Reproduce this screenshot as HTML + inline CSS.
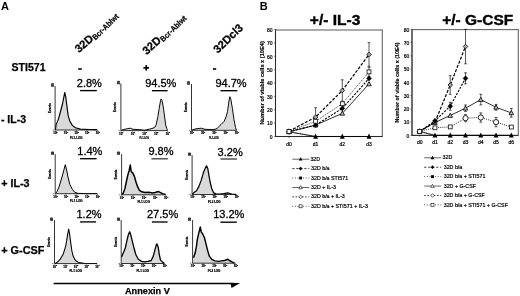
<!DOCTYPE html>
<html><head><meta charset="utf-8"><style>
html,body{margin:0;padding:0;background:#fff;width:520px;height:296px;overflow:hidden}
svg{display:block;will-change:transform}
text{font-family:"Liberation Sans", sans-serif;}
</style></head><body>
<svg width="520" height="296" viewBox="0 0 520 296">
<rect width="520" height="296" fill="#fff"/>

<text x="1.0" y="9.7" font-size="11" font-weight="bold" text-anchor="start" fill="#000" >A</text>
<text transform="translate(78.9,53.3) rotate(-42)" font-weight="bold" fill="#000" stroke="#000" stroke-width="0.25" font-size="11.2">32D</text>
<text transform="translate(94.16,39.56) rotate(-44.5)" x="0.2" y="1.6" font-weight="bold" fill="#000" stroke="#000" stroke-width="0.2" font-size="8" textLength="33.5" lengthAdjust="spacingAndGlyphs">Bcr-Ablwt</text>
<text transform="translate(146.8,55.3) rotate(-43)" font-weight="bold" fill="#000" stroke="#000" stroke-width="0.25" font-size="11.2">32D</text>
<text transform="translate(161.82,41.29) rotate(-44.5)" x="0.4" y="1.8" font-weight="bold" fill="#000" stroke="#000" stroke-width="0.2" font-size="8" textLength="33.5" lengthAdjust="spacingAndGlyphs">Bcr-Ablwt</text>
<text transform="translate(217.7,53.7) rotate(-44)" font-weight="bold" fill="#000" stroke="#000" stroke-width="0.25" font-size="11.2">32Dcl3</text>
<text x="11.6" y="70.9" font-size="10.4" font-weight="bold" text-anchor="start" fill="#000" textLength="34" lengthAdjust="spacingAndGlyphs" stroke="#000" stroke-width="0.25">STI571</text>
<rect x="78.2" y="68.2" width="3.6" height="1.6" fill="#000"/>
<rect x="143.4" y="67.0" width="5.6" height="1.7" fill="#000"/>
<rect x="145.4" y="65.1" width="1.7" height="5.5" fill="#000"/>
<rect x="212.9" y="68.2" width="3.3" height="1.6" fill="#000"/>
<text x="0.9" y="122.5" font-size="10.4" font-weight="bold" text-anchor="start" fill="#000" textLength="25.2" lengthAdjust="spacingAndGlyphs" stroke="#000" stroke-width="0.25">- IL-3</text>
<text x="1.2" y="186.9" font-size="10.4" font-weight="bold" text-anchor="start" fill="#000" textLength="28.4" lengthAdjust="spacingAndGlyphs" stroke="#000" stroke-width="0.25">+ IL-3</text>
<text x="1.2" y="253.6" font-size="10.3" font-weight="bold" text-anchor="start" fill="#000" textLength="43.2" lengthAdjust="spacingAndGlyphs" stroke="#000" stroke-width="0.25">+ G-CSF</text>
<text x="76.8" y="86.8" font-size="11" font-weight="normal" text-anchor="start" fill="#000" stroke="#000" stroke-width="0.3">2.8%</text>
<line x1="80.1" y1="90.6" x2="96.8" y2="90.6" stroke="#000" stroke-width="1.35"/>
<text x="145.2" y="86.8" font-size="11" font-weight="normal" text-anchor="start" fill="#000" stroke="#000" stroke-width="0.3">94.5%</text>
<line x1="151.9" y1="90.7" x2="167.6" y2="90.7" stroke="#000" stroke-width="1.35"/>
<text x="215.4" y="86.9" font-size="11" font-weight="normal" text-anchor="start" fill="#000" stroke="#000" stroke-width="0.3">94.7%</text>
<line x1="220.5" y1="90.7" x2="237.4" y2="90.7" stroke="#000" stroke-width="1.35"/>
<text x="77.3" y="155.0" font-size="11" font-weight="normal" text-anchor="start" fill="#000" stroke="#000" stroke-width="0.3">1.4%</text>
<line x1="80.1" y1="158.7" x2="96.6" y2="158.7" stroke="#000" stroke-width="1.35"/>
<text x="148.4" y="155.4" font-size="11" font-weight="normal" text-anchor="start" fill="#000" stroke="#000" stroke-width="0.3">9.8%</text>
<line x1="151.4" y1="158.8" x2="167.8" y2="158.8" stroke="#333" stroke-width="1.25"/>
<text x="217.6" y="155.6" font-size="11" font-weight="normal" text-anchor="start" fill="#000" stroke="#000" stroke-width="0.3">3.2%</text>
<line x1="220.5" y1="159.0" x2="237.0" y2="159.0" stroke="#333" stroke-width="1.25"/>
<text x="76.5" y="218.0" font-size="11" font-weight="normal" text-anchor="start" fill="#000" stroke="#000" stroke-width="0.3">1.2%</text>
<line x1="80.1" y1="221.9" x2="96.0" y2="221.9" stroke="#000" stroke-width="1.35"/>
<text x="147.0" y="218.0" font-size="11" font-weight="normal" text-anchor="start" fill="#000" stroke="#000" stroke-width="0.3">27.5%</text>
<line x1="151.9" y1="222.0" x2="167.6" y2="222.0" stroke="#000" stroke-width="1.35"/>
<text x="213.2" y="218.0" font-size="11" font-weight="normal" text-anchor="start" fill="#000" stroke="#000" stroke-width="0.3">13.2%</text>
<line x1="220.4" y1="222.2" x2="236.9" y2="222.2" stroke="#000" stroke-width="1.35"/>
<path d="M55.5,129.8 L56.1,124.6 L58.5,118.9 L60.9,110.0 L62.6,103.5 L63.7,97.8 L64.7,92.5 L65.8,97.0 L66.6,103.5 L67.4,110.0 L68.2,115.7 L69.9,121.3 L72.3,125.4 L75.5,127.8 L80.4,129.1 L90.0,129.5 L97.0,129.6 L97.0,130.0 L55.5,130.0 Z" fill="#d9d9d9" stroke="none"/>
<path d="M55.5,129.8 L56.1,124.6 L58.5,118.9 L60.9,110.0 L62.6,103.5 L63.7,97.8 L64.7,92.5 L65.8,97.0 L66.6,103.5 L67.4,110.0 L68.2,115.7 L69.9,121.3 L72.3,125.4 L75.5,127.8 L80.4,129.1 L90.0,129.5 L97.0,129.6" fill="none" stroke="#000" stroke-width="1.15" stroke-linejoin="round"/>
<path d="M55.1,86 L55.1,130.0 L97.5,130.0" fill="none" stroke="#111" stroke-width="0.85"/>
<line x1="52.5" y1="130.0" x2="53.9" y2="130.0" stroke="#222" stroke-width="0.6"/>
<line x1="55.1" y1="130.0" x2="55.1" y2="131.2" stroke="#222" stroke-width="0.5"/>
<text x="55.4" y="133.9" font-size="3.0" font-weight="bold" text-anchor="middle" fill="#000" stroke="#000" stroke-width="0.2">10<tspan font-size="1.8" dy="-1.1">0</tspan></text>
<line x1="65.7" y1="130.0" x2="65.7" y2="131.2" stroke="#222" stroke-width="0.5"/>
<text x="66.0" y="133.9" font-size="3.0" font-weight="bold" text-anchor="middle" fill="#000" stroke="#000" stroke-width="0.2">10<tspan font-size="1.8" dy="-1.1">1</tspan></text>
<line x1="76.3" y1="130.0" x2="76.3" y2="131.2" stroke="#222" stroke-width="0.5"/>
<text x="76.6" y="133.9" font-size="3.0" font-weight="bold" text-anchor="middle" fill="#000" stroke="#000" stroke-width="0.2">10<tspan font-size="1.8" dy="-1.1">2</tspan></text>
<line x1="86.9" y1="130.0" x2="86.9" y2="131.2" stroke="#222" stroke-width="0.5"/>
<text x="87.2" y="133.9" font-size="3.0" font-weight="bold" text-anchor="middle" fill="#000" stroke="#000" stroke-width="0.2">10<tspan font-size="1.8" dy="-1.1">3</tspan></text>
<line x1="97.5" y1="130.0" x2="97.5" y2="131.2" stroke="#222" stroke-width="0.5"/>
<text x="97.8" y="133.9" font-size="3.0" font-weight="bold" text-anchor="middle" fill="#000" stroke="#000" stroke-width="0.2">10<tspan font-size="1.8" dy="-1.1">4</tspan></text>
<text x="76.3" y="138.6" font-size="3.0" font-weight="bold" text-anchor="middle" fill="#000" textLength="12.5" lengthAdjust="spacingAndGlyphs" stroke="#000" stroke-width="0.2">FL1-LOG</text>
<text transform="translate(50.5,108.0) rotate(-90)" font-size="3" font-weight="bold" text-anchor="middle" fill="#000" stroke="#000" stroke-width="0.2">Events</text>
<text transform="translate(53.800000000000004,85.1) rotate(-90)" font-size="3" font-weight="bold" text-anchor="middle" fill="#000" stroke="#000" stroke-width="0.2">80</text>
<path d="M121.2,130.3 L124.0,129.4 L127.0,128.8 L130.2,128.2 L133.0,129.3 L137.0,129.5 L141.0,129.8 L144.4,130.2 L150.0,129.0 L153.0,128.2 L155.0,127.0 L156.2,124.6 L157.9,116.5 L159.2,108.4 L160.3,101.9 L161.1,98.9 L162.0,100.5 L163.3,107.0 L164.5,116.0 L165.7,125.0 L166.8,128.6 L167.5,130.4 L167.5,130.6 L121.2,130.6 Z" fill="#d9d9d9" stroke="none"/>
<path d="M121.2,130.3 L124.0,129.4 L127.0,128.8 L130.2,128.2 L133.0,129.3 L137.0,129.5 L141.0,129.8 L144.4,130.2 L150.0,129.0 L153.0,128.2 L155.0,127.0 L156.2,124.6 L157.9,116.5 L159.2,108.4 L160.3,101.9 L161.1,98.9 L162.0,100.5 L163.3,107.0 L164.5,116.0 L165.7,125.0 L166.8,128.6 L167.5,130.4" fill="none" stroke="#000" stroke-width="0.95" stroke-linejoin="round"/>
<path d="M120.9,83.5 L120.9,130.6 L167.5,130.6" fill="none" stroke="#111" stroke-width="0.85"/>
<line x1="118.30000000000001" y1="130.6" x2="119.7" y2="130.6" stroke="#222" stroke-width="0.6"/>
<line x1="120.9" y1="130.6" x2="120.9" y2="131.79999999999998" stroke="#222" stroke-width="0.5"/>
<text x="121.2" y="134.5" font-size="3.0" font-weight="bold" text-anchor="middle" fill="#000" stroke="#000" stroke-width="0.2">10<tspan font-size="1.8" dy="-1.1">0</tspan></text>
<line x1="132.6" y1="130.6" x2="132.6" y2="131.79999999999998" stroke="#222" stroke-width="0.5"/>
<text x="132.9" y="134.5" font-size="3.0" font-weight="bold" text-anchor="middle" fill="#000" stroke="#000" stroke-width="0.2">10<tspan font-size="1.8" dy="-1.1">1</tspan></text>
<line x1="144.2" y1="130.6" x2="144.2" y2="131.79999999999998" stroke="#222" stroke-width="0.5"/>
<text x="144.5" y="134.5" font-size="3.0" font-weight="bold" text-anchor="middle" fill="#000" stroke="#000" stroke-width="0.2">10<tspan font-size="1.8" dy="-1.1">2</tspan></text>
<line x1="155.8" y1="130.6" x2="155.8" y2="131.79999999999998" stroke="#222" stroke-width="0.5"/>
<text x="156.2" y="134.5" font-size="3.0" font-weight="bold" text-anchor="middle" fill="#000" stroke="#000" stroke-width="0.2">10<tspan font-size="1.8" dy="-1.1">3</tspan></text>
<line x1="167.5" y1="130.6" x2="167.5" y2="131.79999999999998" stroke="#222" stroke-width="0.5"/>
<text x="167.8" y="134.5" font-size="3.0" font-weight="bold" text-anchor="middle" fill="#000" stroke="#000" stroke-width="0.2">10<tspan font-size="1.8" dy="-1.1">4</tspan></text>
<text x="144.2" y="139.2" font-size="3.0" font-weight="bold" text-anchor="middle" fill="#000" textLength="9.6" lengthAdjust="spacingAndGlyphs" stroke="#000" stroke-width="0.2">FL1-LOG</text>
<text transform="translate(116.30000000000001,107.0) rotate(-90)" font-size="3" font-weight="bold" text-anchor="middle" fill="#000" stroke="#000" stroke-width="0.2">Events</text>
<text transform="translate(119.60000000000001,82.6) rotate(-90)" font-size="3" font-weight="bold" text-anchor="middle" fill="#000" stroke="#000" stroke-width="0.2">80</text>
<path d="M191.8,130.1 L196.0,128.8 L201.2,128.2 L205.0,129.3 L213.0,129.6 L216.0,129.0 L217.7,127.8 L221.0,124.5 L224.2,121.3 L226.0,117.0 L227.5,111.6 L229.1,100.2 L229.9,96.7 L230.7,98.6 L232.4,108.4 L234.0,119.7 L235.6,127.8 L236.3,130.1 L236.3,130.3 L191.8,130.3 Z" fill="#d9d9d9" stroke="none"/>
<path d="M191.8,130.1 L196.0,128.8 L201.2,128.2 L205.0,129.3 L213.0,129.6 L216.0,129.0 L217.7,127.8 L221.0,124.5 L224.2,121.3 L226.0,117.0 L227.5,111.6 L229.1,100.2 L229.9,96.7 L230.7,98.6 L232.4,108.4 L234.0,119.7 L235.6,127.8 L236.3,130.1" fill="none" stroke="#000" stroke-width="0.95" stroke-linejoin="round"/>
<path d="M191.5,84 L191.5,130.3 L236.5,130.3" fill="none" stroke="#111" stroke-width="0.85"/>
<line x1="188.9" y1="130.3" x2="190.3" y2="130.3" stroke="#222" stroke-width="0.6"/>
<line x1="191.5" y1="130.3" x2="191.5" y2="131.5" stroke="#222" stroke-width="0.5"/>
<text x="191.8" y="134.20000000000002" font-size="3.0" font-weight="bold" text-anchor="middle" fill="#000" stroke="#000" stroke-width="0.2">10<tspan font-size="1.8" dy="-1.1">0</tspan></text>
<line x1="202.8" y1="130.3" x2="202.8" y2="131.5" stroke="#222" stroke-width="0.5"/>
<text x="203.1" y="134.20000000000002" font-size="3.0" font-weight="bold" text-anchor="middle" fill="#000" stroke="#000" stroke-width="0.2">10<tspan font-size="1.8" dy="-1.1">1</tspan></text>
<line x1="214.0" y1="130.3" x2="214.0" y2="131.5" stroke="#222" stroke-width="0.5"/>
<text x="214.3" y="134.20000000000002" font-size="3.0" font-weight="bold" text-anchor="middle" fill="#000" stroke="#000" stroke-width="0.2">10<tspan font-size="1.8" dy="-1.1">2</tspan></text>
<line x1="225.2" y1="130.3" x2="225.2" y2="131.5" stroke="#222" stroke-width="0.5"/>
<text x="225.6" y="134.20000000000002" font-size="3.0" font-weight="bold" text-anchor="middle" fill="#000" stroke="#000" stroke-width="0.2">10<tspan font-size="1.8" dy="-1.1">3</tspan></text>
<line x1="236.5" y1="130.3" x2="236.5" y2="131.5" stroke="#222" stroke-width="0.5"/>
<text x="236.8" y="134.20000000000002" font-size="3.0" font-weight="bold" text-anchor="middle" fill="#000" stroke="#000" stroke-width="0.2">10<tspan font-size="1.8" dy="-1.1">4</tspan></text>
<text x="214.0" y="138.9" font-size="3.0" font-weight="bold" text-anchor="middle" fill="#000" textLength="9.6" lengthAdjust="spacingAndGlyphs" stroke="#000" stroke-width="0.2">FL1-LOG</text>
<text transform="translate(186.9,107.2) rotate(-90)" font-size="3" font-weight="bold" text-anchor="middle" fill="#000" stroke="#000" stroke-width="0.2">Events</text>
<text transform="translate(190.2,83.1) rotate(-90)" font-size="3" font-weight="bold" text-anchor="middle" fill="#000" stroke="#000" stroke-width="0.2">80</text>
<path d="M55.5,193.5 L56.9,191.8 L59.3,186.1 L61.7,178.0 L63.7,170.7 L65.3,164.7 L66.6,169.9 L68.2,178.0 L69.9,184.5 L72.3,189.3 L74.7,192.3 L78.0,193.4 L90.0,193.6 L97.0,193.6 L97.0,193.7 L55.5,193.7 Z" fill="#d9d9d9" stroke="none"/>
<path d="M55.5,193.5 L56.9,191.8 L59.3,186.1 L61.7,178.0 L63.7,170.7 L65.3,164.7 L66.6,169.9 L68.2,178.0 L69.9,184.5 L72.3,189.3 L74.7,192.3 L78.0,193.4 L90.0,193.6 L97.0,193.6" fill="none" stroke="#000" stroke-width="1.0" stroke-linejoin="round"/>
<path d="M55.2,154.1 L55.2,193.7 L97.5,193.7" fill="none" stroke="#111" stroke-width="0.85"/>
<line x1="52.6" y1="193.7" x2="54.0" y2="193.7" stroke="#222" stroke-width="0.6"/>
<line x1="55.2" y1="193.7" x2="55.2" y2="194.89999999999998" stroke="#222" stroke-width="0.5"/>
<text x="55.5" y="197.6" font-size="3.0" font-weight="bold" text-anchor="middle" fill="#000" stroke="#000" stroke-width="0.2">10<tspan font-size="1.8" dy="-1.1">0</tspan></text>
<line x1="65.8" y1="193.7" x2="65.8" y2="194.89999999999998" stroke="#222" stroke-width="0.5"/>
<text x="66.1" y="197.6" font-size="3.0" font-weight="bold" text-anchor="middle" fill="#000" stroke="#000" stroke-width="0.2">10<tspan font-size="1.8" dy="-1.1">1</tspan></text>
<line x1="76.3" y1="193.7" x2="76.3" y2="194.89999999999998" stroke="#222" stroke-width="0.5"/>
<text x="76.6" y="197.6" font-size="3.0" font-weight="bold" text-anchor="middle" fill="#000" stroke="#000" stroke-width="0.2">10<tspan font-size="1.8" dy="-1.1">2</tspan></text>
<line x1="86.9" y1="193.7" x2="86.9" y2="194.89999999999998" stroke="#222" stroke-width="0.5"/>
<text x="87.2" y="197.6" font-size="3.0" font-weight="bold" text-anchor="middle" fill="#000" stroke="#000" stroke-width="0.2">10<tspan font-size="1.8" dy="-1.1">3</tspan></text>
<line x1="97.5" y1="193.7" x2="97.5" y2="194.89999999999998" stroke="#222" stroke-width="0.5"/>
<text x="97.8" y="197.6" font-size="3.0" font-weight="bold" text-anchor="middle" fill="#000" stroke="#000" stroke-width="0.2">10<tspan font-size="1.8" dy="-1.1">4</tspan></text>
<text x="76.3" y="202.29999999999998" font-size="3.0" font-weight="bold" text-anchor="middle" fill="#000" textLength="12.5" lengthAdjust="spacingAndGlyphs" stroke="#000" stroke-width="0.2">FL1 LOG</text>
<text transform="translate(50.6,173.9) rotate(-90)" font-size="3" font-weight="bold" text-anchor="middle" fill="#000" stroke="#000" stroke-width="0.2">Events</text>
<text transform="translate(53.900000000000006,153.2) rotate(-90)" font-size="3" font-weight="bold" text-anchor="middle" fill="#000" stroke="#000" stroke-width="0.2">80</text>
<path d="M122.0,194.5 L123.1,193.4 L124.7,189.3 L126.3,182.0 L127.9,174.7 L129.1,170.7 L130.0,166.6 L130.3,165.0 L131.2,171.5 L132.8,173.1 L134.4,176.4 L136.0,182.0 L137.7,186.9 L139.3,190.1 L141.7,191.8 L145.0,192.6 L148.5,192.3 L152.6,193.0 L155.0,192.5 L158.6,191.6 L162.5,193.6 L165.5,194.5 L165.5,194.8 L122.0,194.8 Z" fill="#d9d9d9" stroke="none"/>
<path d="M122.0,194.5 L123.1,193.4 L124.7,189.3 L126.3,182.0 L127.9,174.7 L129.1,170.7 L130.0,166.6 L130.3,165.0 L131.2,171.5 L132.8,173.1 L134.4,176.4 L136.0,182.0 L137.7,186.9 L139.3,190.1 L141.7,191.8 L145.0,192.6 L148.5,192.3 L152.6,193.0 L155.0,192.5 L158.6,191.6 L162.5,193.6 L165.5,194.5" fill="none" stroke="#000" stroke-width="1.5" stroke-linejoin="round"/>
<path d="M121.6,154.1 L121.6,194.8 L165.8,194.8" fill="none" stroke="#111" stroke-width="0.85"/>
<line x1="119.0" y1="194.8" x2="120.39999999999999" y2="194.8" stroke="#222" stroke-width="0.6"/>
<line x1="121.6" y1="194.8" x2="121.6" y2="196.0" stroke="#222" stroke-width="0.5"/>
<text x="121.9" y="198.70000000000002" font-size="3.0" font-weight="bold" text-anchor="middle" fill="#000" stroke="#000" stroke-width="0.2">10<tspan font-size="1.8" dy="-1.1">0</tspan></text>
<line x1="132.7" y1="194.8" x2="132.7" y2="196.0" stroke="#222" stroke-width="0.5"/>
<text x="133.0" y="198.70000000000002" font-size="3.0" font-weight="bold" text-anchor="middle" fill="#000" stroke="#000" stroke-width="0.2">10<tspan font-size="1.8" dy="-1.1">1</tspan></text>
<line x1="143.7" y1="194.8" x2="143.7" y2="196.0" stroke="#222" stroke-width="0.5"/>
<text x="144.0" y="198.70000000000002" font-size="3.0" font-weight="bold" text-anchor="middle" fill="#000" stroke="#000" stroke-width="0.2">10<tspan font-size="1.8" dy="-1.1">2</tspan></text>
<line x1="154.8" y1="194.8" x2="154.8" y2="196.0" stroke="#222" stroke-width="0.5"/>
<text x="155.1" y="198.70000000000002" font-size="3.0" font-weight="bold" text-anchor="middle" fill="#000" stroke="#000" stroke-width="0.2">10<tspan font-size="1.8" dy="-1.1">3</tspan></text>
<line x1="165.8" y1="194.8" x2="165.8" y2="196.0" stroke="#222" stroke-width="0.5"/>
<text x="166.1" y="198.70000000000002" font-size="3.0" font-weight="bold" text-anchor="middle" fill="#000" stroke="#000" stroke-width="0.2">10<tspan font-size="1.8" dy="-1.1">4</tspan></text>
<text x="143.7" y="203.4" font-size="3.0" font-weight="bold" text-anchor="middle" fill="#000" textLength="12.5" lengthAdjust="spacingAndGlyphs" stroke="#000" stroke-width="0.2">FL1 LOG</text>
<text transform="translate(117.0,174.4) rotate(-90)" font-size="3" font-weight="bold" text-anchor="middle" fill="#000" stroke="#000" stroke-width="0.2">Events</text>
<text transform="translate(120.3,153.2) rotate(-90)" font-size="3" font-weight="bold" text-anchor="middle" fill="#000" stroke="#000" stroke-width="0.2">80</text>
<path d="M192.4,194.3 L193.9,192.6 L196.3,191.0 L198.7,186.9 L201.2,180.4 L203.3,173.1 L204.9,169.0 L206.5,165.8 L207.7,168.2 L208.8,174.7 L210.1,182.0 L211.7,188.5 L213.4,192.6 L215.8,193.9 L220.0,194.0 L224.0,193.6 L227.6,192.8 L231.7,194.0 L236.1,194.3 L236.1,194.5 L192.4,194.5 Z" fill="#d9d9d9" stroke="none"/>
<path d="M192.4,194.3 L193.9,192.6 L196.3,191.0 L198.7,186.9 L201.2,180.4 L203.3,173.1 L204.9,169.0 L206.5,165.8 L207.7,168.2 L208.8,174.7 L210.1,182.0 L211.7,188.5 L213.4,192.6 L215.8,193.9 L220.0,194.0 L224.0,193.6 L227.6,192.8 L231.7,194.0 L236.1,194.3" fill="none" stroke="#000" stroke-width="1.25" stroke-linejoin="round"/>
<path d="M192.1,155.1 L192.1,194.5 L236.5,194.5" fill="none" stroke="#111" stroke-width="0.85"/>
<line x1="189.5" y1="194.5" x2="190.9" y2="194.5" stroke="#222" stroke-width="0.6"/>
<line x1="192.1" y1="194.5" x2="192.1" y2="195.7" stroke="#222" stroke-width="0.5"/>
<text x="192.4" y="198.4" font-size="3.0" font-weight="bold" text-anchor="middle" fill="#000" stroke="#000" stroke-width="0.2">10<tspan font-size="1.8" dy="-1.1">0</tspan></text>
<line x1="203.2" y1="194.5" x2="203.2" y2="195.7" stroke="#222" stroke-width="0.5"/>
<text x="203.5" y="198.4" font-size="3.0" font-weight="bold" text-anchor="middle" fill="#000" stroke="#000" stroke-width="0.2">10<tspan font-size="1.8" dy="-1.1">1</tspan></text>
<line x1="214.3" y1="194.5" x2="214.3" y2="195.7" stroke="#222" stroke-width="0.5"/>
<text x="214.6" y="198.4" font-size="3.0" font-weight="bold" text-anchor="middle" fill="#000" stroke="#000" stroke-width="0.2">10<tspan font-size="1.8" dy="-1.1">2</tspan></text>
<line x1="225.4" y1="194.5" x2="225.4" y2="195.7" stroke="#222" stroke-width="0.5"/>
<text x="225.7" y="198.4" font-size="3.0" font-weight="bold" text-anchor="middle" fill="#000" stroke="#000" stroke-width="0.2">10<tspan font-size="1.8" dy="-1.1">3</tspan></text>
<line x1="236.5" y1="194.5" x2="236.5" y2="195.7" stroke="#222" stroke-width="0.5"/>
<text x="236.8" y="198.4" font-size="3.0" font-weight="bold" text-anchor="middle" fill="#000" stroke="#000" stroke-width="0.2">10<tspan font-size="1.8" dy="-1.1">4</tspan></text>
<text x="214.3" y="203.1" font-size="3.0" font-weight="bold" text-anchor="middle" fill="#000" textLength="12.5" lengthAdjust="spacingAndGlyphs" stroke="#000" stroke-width="0.2">FL2 LOG</text>
<text transform="translate(187.5,174.8) rotate(-90)" font-size="3" font-weight="bold" text-anchor="middle" fill="#000" stroke="#000" stroke-width="0.2">Events</text>
<text transform="translate(190.79999999999998,154.2) rotate(-90)" font-size="3" font-weight="bold" text-anchor="middle" fill="#000" stroke="#000" stroke-width="0.2">80</text>
<path d="M54.8,263.4 L56.9,262.6 L60.1,259.4 L63.4,253.7 L65.8,245.6 L67.4,235.9 L68.7,229.0 L69.5,233.4 L70.7,242.4 L71.8,250.5 L73.1,256.1 L75.5,260.5 L78.8,262.6 L84.0,263.3 L97.0,263.4 L97.0,263.6 L54.8,263.6 Z" fill="#d9d9d9" stroke="none"/>
<path d="M54.8,263.4 L56.9,262.6 L60.1,259.4 L63.4,253.7 L65.8,245.6 L67.4,235.9 L68.7,229.0 L69.5,233.4 L70.7,242.4 L71.8,250.5 L73.1,256.1 L75.5,260.5 L78.8,262.6 L84.0,263.3 L97.0,263.4" fill="none" stroke="#000" stroke-width="1.05" stroke-linejoin="round"/>
<path d="M54.5,220.1 L54.5,263.6 L97,263.6" fill="none" stroke="#111" stroke-width="0.85"/>
<line x1="51.9" y1="263.6" x2="53.3" y2="263.6" stroke="#222" stroke-width="0.6"/>
<line x1="54.5" y1="263.6" x2="54.5" y2="264.8" stroke="#222" stroke-width="0.5"/>
<text x="54.8" y="267.5" font-size="3.0" font-weight="bold" text-anchor="middle" fill="#000" stroke="#000" stroke-width="0.2">10<tspan font-size="1.8" dy="-1.1">0</tspan></text>
<line x1="65.1" y1="263.6" x2="65.1" y2="264.8" stroke="#222" stroke-width="0.5"/>
<text x="65.4" y="267.5" font-size="3.0" font-weight="bold" text-anchor="middle" fill="#000" stroke="#000" stroke-width="0.2">10<tspan font-size="1.8" dy="-1.1">1</tspan></text>
<line x1="75.8" y1="263.6" x2="75.8" y2="264.8" stroke="#222" stroke-width="0.5"/>
<text x="76.0" y="267.5" font-size="3.0" font-weight="bold" text-anchor="middle" fill="#000" stroke="#000" stroke-width="0.2">10<tspan font-size="1.8" dy="-1.1">2</tspan></text>
<line x1="86.4" y1="263.6" x2="86.4" y2="264.8" stroke="#222" stroke-width="0.5"/>
<text x="86.7" y="267.5" font-size="3.0" font-weight="bold" text-anchor="middle" fill="#000" stroke="#000" stroke-width="0.2">10<tspan font-size="1.8" dy="-1.1">3</tspan></text>
<line x1="97.0" y1="263.6" x2="97.0" y2="264.8" stroke="#222" stroke-width="0.5"/>
<text x="97.3" y="267.5" font-size="3.0" font-weight="bold" text-anchor="middle" fill="#000" stroke="#000" stroke-width="0.2">10<tspan font-size="1.8" dy="-1.1">4</tspan></text>
<text x="75.8" y="272.20000000000005" font-size="3.0" font-weight="bold" text-anchor="middle" fill="#000" textLength="12.5" lengthAdjust="spacingAndGlyphs" stroke="#000" stroke-width="0.2">FL1 LOG</text>
<text transform="translate(49.9,241.9) rotate(-90)" font-size="3" font-weight="bold" text-anchor="middle" fill="#000" stroke="#000" stroke-width="0.2">Events</text>
<text transform="translate(53.2,219.2) rotate(-90)" font-size="3" font-weight="bold" text-anchor="middle" fill="#000" stroke="#000" stroke-width="0.2">80</text>
<path d="M121.6,256.9 L123.7,252.0 L125.3,248.0 L126.9,240.7 L128.5,234.2 L129.7,231.8 L131.0,235.8 L132.6,242.3 L134.2,248.8 L135.8,254.5 L138.3,259.3 L141.5,261.4 L144.7,261.8 L148.0,261.4 L151.2,260.5 L153.3,256.1 L155.0,249.6 L156.1,245.6 L156.9,243.9 L158.2,247.2 L159.3,254.5 L160.5,260.1 L162.6,262.1 L164.3,263.2 L164.3,263.5 L121.6,263.5 Z" fill="#d9d9d9" stroke="none"/>
<path d="M121.6,256.9 L123.7,252.0 L125.3,248.0 L126.9,240.7 L128.5,234.2 L129.7,231.8 L131.0,235.8 L132.6,242.3 L134.2,248.8 L135.8,254.5 L138.3,259.3 L141.5,261.4 L144.7,261.8 L148.0,261.4 L151.2,260.5 L153.3,256.1 L155.0,249.6 L156.1,245.6 L156.9,243.9 L158.2,247.2 L159.3,254.5 L160.5,260.1 L162.6,262.1 L164.3,263.2" fill="none" stroke="#000" stroke-width="1.3" stroke-linejoin="round"/>
<path d="M121.2,220.1 L121.2,263.5 L164.5,263.5" fill="none" stroke="#111" stroke-width="0.85"/>
<line x1="118.60000000000001" y1="263.5" x2="120.0" y2="263.5" stroke="#222" stroke-width="0.6"/>
<line x1="121.2" y1="263.5" x2="121.2" y2="264.7" stroke="#222" stroke-width="0.5"/>
<text x="121.5" y="267.4" font-size="3.0" font-weight="bold" text-anchor="middle" fill="#000" stroke="#000" stroke-width="0.2">10<tspan font-size="1.8" dy="-1.1">0</tspan></text>
<line x1="132.0" y1="263.5" x2="132.0" y2="264.7" stroke="#222" stroke-width="0.5"/>
<text x="132.3" y="267.4" font-size="3.0" font-weight="bold" text-anchor="middle" fill="#000" stroke="#000" stroke-width="0.2">10<tspan font-size="1.8" dy="-1.1">1</tspan></text>
<line x1="142.8" y1="263.5" x2="142.8" y2="264.7" stroke="#222" stroke-width="0.5"/>
<text x="143.2" y="267.4" font-size="3.0" font-weight="bold" text-anchor="middle" fill="#000" stroke="#000" stroke-width="0.2">10<tspan font-size="1.8" dy="-1.1">2</tspan></text>
<line x1="153.7" y1="263.5" x2="153.7" y2="264.7" stroke="#222" stroke-width="0.5"/>
<text x="154.0" y="267.4" font-size="3.0" font-weight="bold" text-anchor="middle" fill="#000" stroke="#000" stroke-width="0.2">10<tspan font-size="1.8" dy="-1.1">3</tspan></text>
<line x1="164.5" y1="263.5" x2="164.5" y2="264.7" stroke="#222" stroke-width="0.5"/>
<text x="164.8" y="267.4" font-size="3.0" font-weight="bold" text-anchor="middle" fill="#000" stroke="#000" stroke-width="0.2">10<tspan font-size="1.8" dy="-1.1">4</tspan></text>
<text x="142.8" y="272.1" font-size="3.0" font-weight="bold" text-anchor="middle" fill="#000" textLength="12.5" lengthAdjust="spacingAndGlyphs" stroke="#000" stroke-width="0.2">FL1 LOG</text>
<text transform="translate(116.60000000000001,241.8) rotate(-90)" font-size="3" font-weight="bold" text-anchor="middle" fill="#000" stroke="#000" stroke-width="0.2">Events</text>
<text transform="translate(119.9,219.2) rotate(-90)" font-size="3" font-weight="bold" text-anchor="middle" fill="#000" stroke="#000" stroke-width="0.2">80</text>
<path d="M193.5,257.7 L195.2,252.8 L196.3,247.2 L197.4,239.1 L198.7,233.4 L200.3,226.9 L201.2,231.8 L202.8,234.2 L204.4,237.5 L206.0,243.9 L207.6,250.4 L209.3,256.1 L211.7,259.3 L214.9,260.9 L218.2,261.4 L221.4,260.9 L224.7,260.5 L227.9,259.3 L229.5,260.5 L231.9,261.8 L234.4,263.0 L234.4,263.2 L193.5,263.2 Z" fill="#d9d9d9" stroke="none"/>
<path d="M193.5,257.7 L195.2,252.8 L196.3,247.2 L197.4,239.1 L198.7,233.4 L200.3,226.9 L201.2,231.8 L202.8,234.2 L204.4,237.5 L206.0,243.9 L207.6,250.4 L209.3,256.1 L211.7,259.3 L214.9,260.9 L218.2,261.4 L221.4,260.9 L224.7,260.5 L227.9,259.3 L229.5,260.5 L231.9,261.8 L234.4,263.0" fill="none" stroke="#000" stroke-width="1.45" stroke-linejoin="round"/>
<path d="M192.6,220.1 L192.6,263.2 L235.5,263.2" fill="none" stroke="#111" stroke-width="0.85"/>
<line x1="190.0" y1="263.2" x2="191.4" y2="263.2" stroke="#222" stroke-width="0.6"/>
<line x1="192.6" y1="263.2" x2="192.6" y2="264.4" stroke="#222" stroke-width="0.5"/>
<text x="192.9" y="267.09999999999997" font-size="3.0" font-weight="bold" text-anchor="middle" fill="#000" stroke="#000" stroke-width="0.2">10<tspan font-size="1.8" dy="-1.1">0</tspan></text>
<line x1="203.3" y1="263.2" x2="203.3" y2="264.4" stroke="#222" stroke-width="0.5"/>
<text x="203.6" y="267.09999999999997" font-size="3.0" font-weight="bold" text-anchor="middle" fill="#000" stroke="#000" stroke-width="0.2">10<tspan font-size="1.8" dy="-1.1">1</tspan></text>
<line x1="214.1" y1="263.2" x2="214.1" y2="264.4" stroke="#222" stroke-width="0.5"/>
<text x="214.4" y="267.09999999999997" font-size="3.0" font-weight="bold" text-anchor="middle" fill="#000" stroke="#000" stroke-width="0.2">10<tspan font-size="1.8" dy="-1.1">2</tspan></text>
<line x1="224.8" y1="263.2" x2="224.8" y2="264.4" stroke="#222" stroke-width="0.5"/>
<text x="225.1" y="267.09999999999997" font-size="3.0" font-weight="bold" text-anchor="middle" fill="#000" stroke="#000" stroke-width="0.2">10<tspan font-size="1.8" dy="-1.1">3</tspan></text>
<line x1="235.5" y1="263.2" x2="235.5" y2="264.4" stroke="#222" stroke-width="0.5"/>
<text x="235.8" y="267.09999999999997" font-size="3.0" font-weight="bold" text-anchor="middle" fill="#000" stroke="#000" stroke-width="0.2">10<tspan font-size="1.8" dy="-1.1">4</tspan></text>
<text x="214.1" y="271.8" font-size="3.0" font-weight="bold" text-anchor="middle" fill="#000" textLength="12.5" lengthAdjust="spacingAndGlyphs" stroke="#000" stroke-width="0.2">FL2 LOG</text>
<text transform="translate(188.0,241.6) rotate(-90)" font-size="3" font-weight="bold" text-anchor="middle" fill="#000" stroke="#000" stroke-width="0.2">Events</text>
<text transform="translate(191.29999999999998,219.2) rotate(-90)" font-size="3" font-weight="bold" text-anchor="middle" fill="#000" stroke="#000" stroke-width="0.2">80</text>
<line x1="53.6" y1="283.5" x2="234" y2="283.5" stroke="#000" stroke-width="1.6"/>
<path d="M230.5,282.9 L240.2,282.9 L231.5,287.9 Z" fill="#000"/>
<text x="125.0" y="294.4" font-size="9.2" font-weight="bold" text-anchor="start" fill="#000" textLength="44.8" lengthAdjust="spacingAndGlyphs" stroke="#000" stroke-width="0.25">Annexin V</text>
<text x="259.8" y="9.5" font-size="11" font-weight="bold" text-anchor="start" fill="#000" >B</text>
<text x="309.8" y="25.3" font-size="14" font-weight="bold" text-anchor="start" fill="#000" textLength="50.6" lengthAdjust="spacingAndGlyphs" stroke="#000" stroke-width="0.35">+/- IL-3</text>
<text x="442.2" y="24.5" font-size="13.8" font-weight="bold" text-anchor="start" fill="#000" textLength="71.0" lengthAdjust="spacingAndGlyphs" stroke="#000" stroke-width="0.35">+/- G-CSF</text>
<rect x="275.5" y="30" width="106.80000000000001" height="106.5" fill="none" stroke="#666" stroke-width="1.1"/>
<line x1="275.5" y1="29.5" x2="275.5" y2="136.5" stroke="#222" stroke-width="0.9"/>
<line x1="275.5" y1="136.5" x2="382.3" y2="136.5" stroke="#222" stroke-width="0.9"/>
<line x1="274.0" y1="136.5" x2="275.5" y2="136.5" stroke="#222" stroke-width="0.5"/>
<text x="272.5" y="138.8" font-size="5" font-weight="normal" text-anchor="end" fill="#000" stroke="#000" stroke-width="0.2">0</text>
<line x1="274.0" y1="123.1" x2="275.5" y2="123.1" stroke="#222" stroke-width="0.5"/>
<text x="272.5" y="125.4" font-size="5" font-weight="normal" text-anchor="end" fill="#000" stroke="#000" stroke-width="0.2">10</text>
<line x1="274.0" y1="109.8" x2="275.5" y2="109.8" stroke="#222" stroke-width="0.5"/>
<text x="272.5" y="112.0" font-size="5" font-weight="normal" text-anchor="end" fill="#000" stroke="#000" stroke-width="0.2">20</text>
<line x1="274.0" y1="96.4" x2="275.5" y2="96.4" stroke="#222" stroke-width="0.5"/>
<text x="272.5" y="98.7" font-size="5" font-weight="normal" text-anchor="end" fill="#000" stroke="#000" stroke-width="0.2">30</text>
<line x1="274.0" y1="83.0" x2="275.5" y2="83.0" stroke="#222" stroke-width="0.5"/>
<text x="272.5" y="85.3" font-size="5" font-weight="normal" text-anchor="end" fill="#000" stroke="#000" stroke-width="0.2">40</text>
<line x1="274.0" y1="69.6" x2="275.5" y2="69.6" stroke="#222" stroke-width="0.5"/>
<text x="272.5" y="71.9" font-size="5" font-weight="normal" text-anchor="end" fill="#000" stroke="#000" stroke-width="0.2">50</text>
<line x1="274.0" y1="56.2" x2="275.5" y2="56.2" stroke="#222" stroke-width="0.5"/>
<text x="272.5" y="58.5" font-size="5" font-weight="normal" text-anchor="end" fill="#000" stroke="#000" stroke-width="0.2">60</text>
<line x1="274.0" y1="42.9" x2="275.5" y2="42.9" stroke="#222" stroke-width="0.5"/>
<text x="272.5" y="45.2" font-size="5" font-weight="normal" text-anchor="end" fill="#000" stroke="#000" stroke-width="0.2">70</text>
<line x1="274.0" y1="29.5" x2="275.5" y2="29.5" stroke="#222" stroke-width="0.5"/>
<text x="272.5" y="31.8" font-size="5" font-weight="normal" text-anchor="end" fill="#000" stroke="#000" stroke-width="0.2">80</text>
<line x1="289.0" y1="136.5" x2="289.0" y2="138.0" stroke="#222" stroke-width="0.5"/>
<text x="289" y="146.0" font-size="5" font-weight="normal" text-anchor="middle" fill="#000" stroke="#000" stroke-width="0.2">d0</text>
<line x1="315.6" y1="136.5" x2="315.6" y2="138.0" stroke="#222" stroke-width="0.5"/>
<text x="315.6" y="146.0" font-size="5" font-weight="normal" text-anchor="middle" fill="#000" stroke="#000" stroke-width="0.2">d1</text>
<line x1="342.3" y1="136.5" x2="342.3" y2="138.0" stroke="#222" stroke-width="0.5"/>
<text x="342.3" y="146.0" font-size="5" font-weight="normal" text-anchor="middle" fill="#000" stroke="#000" stroke-width="0.2">d2</text>
<line x1="369.0" y1="136.5" x2="369.0" y2="138.0" stroke="#222" stroke-width="0.5"/>
<text x="369" y="146.0" font-size="5" font-weight="normal" text-anchor="middle" fill="#000" stroke="#000" stroke-width="0.2">d3</text>
<text transform="translate(264.3,124.5) rotate(-90)" font-size="5.6" font-weight="bold" fill="#000" stroke="#000" stroke-width="0.15" textLength="83.3" lengthAdjust="spacingAndGlyphs">Number of viable cells x (10E4)</text>
<path d="M289.0,131.8 L315.6,136.5 L342.3,136.5 L369.0,136.5" fill="none" stroke="#000" stroke-width="0.8"/>
<path d="M289.0,131.8 L315.6,125.1 L342.3,108.4 L369.0,78.5" fill="none" stroke="#000" stroke-width="1.1" stroke-dasharray="2.2,1.3"/>
<path d="M289.0,131.8 L315.6,136.5 L342.3,136.5 L369.0,136.5" fill="none" stroke="#000" stroke-width="0.6" stroke-dasharray="1.2,1"/>
<path d="M289.0,131.8 L315.6,125.1 L342.3,113.4 L369.0,83.9" fill="none" stroke="#000" stroke-width="0.8"/>
<path d="M289.0,131.2 L315.6,117.1 L342.3,90.5 L369.0,54.5" fill="none" stroke="#000" stroke-width="1.2" stroke-dasharray="3,1.5"/>
<path d="M289.0,131.5 L315.6,121.3 L342.3,103.7 L369.0,71.9" fill="none" stroke="#000" stroke-width="0.8" stroke-dasharray="1,1.1"/>
<path d="M315.6,107.7 L315.6,126.5 M314.2,107.7 L317.0,107.7 M314.2,126.5 L317.0,126.5" stroke="#111" stroke-width="0.7" fill="none"/>
<path d="M342.3,79.8 L342.3,101.2 M340.9,79.8 L343.7,79.8 M340.9,101.2 L343.7,101.2" stroke="#111" stroke-width="0.7" fill="none"/>
<path d="M369.0,42.7 L369.0,66.3 M367.6,42.7 L370.4,42.7 M367.6,66.3 L370.4,66.3" stroke="#111" stroke-width="0.7" fill="none"/>
<path d="M369.0,67.2 L369.0,76.6 M367.6,67.2 L370.4,67.2 M367.6,76.6 L370.4,76.6" stroke="#111" stroke-width="0.7" fill="none"/>
<path d="M289.00,128.82 L291.45,134.02 L286.55,134.02 Z" fill="#000"/>
<rect x="287.16" y="129.98" width="3.68" height="3.68" fill="#000"/>
<path d="M289.00,129.52 L291.30,133.66 L286.70,133.66 Z" fill="#bbb" stroke="#000" stroke-width="0.8"/>
<path d="M315.60,122.83 L317.90,126.97 L313.30,126.97 Z" fill="#bbb" stroke="#000" stroke-width="0.8"/>
<path d="M342.30,111.06 L344.60,115.20 L340.00,115.20 Z" fill="#bbb" stroke="#000" stroke-width="0.8"/>
<path d="M369.00,81.64 L371.30,85.78 L366.70,85.78 Z" fill="#bbb" stroke="#000" stroke-width="0.8"/>
<path d="M289.00,128.85 L291.30,131.15 L289.00,133.45 L286.70,131.15 Z" fill="#aaa" stroke="#000" stroke-width="0.8"/>
<path d="M315.60,114.81 L317.90,117.11 L315.60,119.41 L313.30,117.11 Z" fill="#aaa" stroke="#000" stroke-width="0.8"/>
<path d="M342.30,88.19 L344.60,90.49 L342.30,92.79 L340.00,90.49 Z" fill="#aaa" stroke="#000" stroke-width="0.8"/>
<path d="M369.00,52.21 L371.30,54.51 L369.00,56.81 L366.70,54.51 Z" fill="#aaa" stroke="#000" stroke-width="0.8"/>
<path d="M289.00,129.22 L291.50,131.82 L289.00,134.42 L286.50,131.82 Z" fill="#000" stroke="#000" stroke-width="0.4" stroke-linejoin="round"/>
<path d="M315.60,122.53 L318.10,125.13 L315.60,127.73 L313.10,125.13 Z" fill="#000" stroke="#000" stroke-width="0.4" stroke-linejoin="round"/>
<path d="M342.30,105.81 L344.80,108.41 L342.30,111.01 L339.80,108.41 Z" fill="#000" stroke="#000" stroke-width="0.4" stroke-linejoin="round"/>
<path d="M369.00,75.85 L371.50,78.45 L369.00,81.05 L366.50,78.45 Z" fill="#000" stroke="#000" stroke-width="0.4" stroke-linejoin="round"/>
<rect x="287.05" y="129.53" width="3.9" height="3.9" fill="#fff" stroke="#000" stroke-width="0.75"/>
<rect x="313.65" y="119.30" width="3.9" height="3.9" fill="#fff" stroke="#000" stroke-width="0.75"/>
<rect x="340.35" y="101.78" width="3.9" height="3.9" fill="#fff" stroke="#000" stroke-width="0.75"/>
<rect x="367.05" y="69.95" width="3.9" height="3.9" fill="#fff" stroke="#000" stroke-width="0.75"/>
<path d="M315.60,133.50 L318.05,138.70 L313.15,138.70 Z" fill="#000"/>
<path d="M342.30,133.50 L344.75,138.70 L339.85,138.70 Z" fill="#000"/>
<path d="M369.00,133.50 L371.45,138.70 L366.55,138.70 Z" fill="#000"/>
<rect x="412" y="29.6" width="106.29999999999995" height="105.80000000000001" fill="none" stroke="#666" stroke-width="1.1"/>
<line x1="412" y1="29.3" x2="412" y2="135.4" stroke="#222" stroke-width="0.9"/>
<line x1="412" y1="135.4" x2="518.3" y2="135.4" stroke="#222" stroke-width="0.9"/>
<line x1="410.5" y1="135.4" x2="412" y2="135.4" stroke="#222" stroke-width="0.5"/>
<text x="409.4" y="137.7" font-size="5" font-weight="normal" text-anchor="end" fill="#000" stroke="#000" stroke-width="0.2">0</text>
<line x1="410.5" y1="122.1" x2="412" y2="122.1" stroke="#222" stroke-width="0.5"/>
<text x="409.4" y="124.4" font-size="5" font-weight="normal" text-anchor="end" fill="#000" stroke="#000" stroke-width="0.2">10</text>
<line x1="410.5" y1="108.9" x2="412" y2="108.9" stroke="#222" stroke-width="0.5"/>
<text x="409.4" y="111.2" font-size="5" font-weight="normal" text-anchor="end" fill="#000" stroke="#000" stroke-width="0.2">20</text>
<line x1="410.5" y1="95.6" x2="412" y2="95.6" stroke="#222" stroke-width="0.5"/>
<text x="409.4" y="97.9" font-size="5" font-weight="normal" text-anchor="end" fill="#000" stroke="#000" stroke-width="0.2">30</text>
<line x1="410.5" y1="82.3" x2="412" y2="82.3" stroke="#222" stroke-width="0.5"/>
<text x="409.4" y="84.6" font-size="5" font-weight="normal" text-anchor="end" fill="#000" stroke="#000" stroke-width="0.2">40</text>
<line x1="410.5" y1="69.1" x2="412" y2="69.1" stroke="#222" stroke-width="0.5"/>
<text x="409.4" y="71.4" font-size="5" font-weight="normal" text-anchor="end" fill="#000" stroke="#000" stroke-width="0.2">50</text>
<line x1="410.5" y1="55.8" x2="412" y2="55.8" stroke="#222" stroke-width="0.5"/>
<text x="409.4" y="58.1" font-size="5" font-weight="normal" text-anchor="end" fill="#000" stroke="#000" stroke-width="0.2">60</text>
<line x1="410.5" y1="42.6" x2="412" y2="42.6" stroke="#222" stroke-width="0.5"/>
<text x="409.4" y="44.9" font-size="5" font-weight="normal" text-anchor="end" fill="#000" stroke="#000" stroke-width="0.2">70</text>
<line x1="410.5" y1="29.3" x2="412" y2="29.3" stroke="#222" stroke-width="0.5"/>
<text x="409.4" y="31.6" font-size="5" font-weight="normal" text-anchor="end" fill="#000" stroke="#000" stroke-width="0.2">80</text>
<line x1="419.7" y1="135.4" x2="419.7" y2="136.9" stroke="#222" stroke-width="0.5"/>
<text x="419.7" y="144.4" font-size="5" font-weight="normal" text-anchor="middle" fill="#000" stroke="#000" stroke-width="0.2">d0</text>
<line x1="435.0" y1="135.4" x2="435.0" y2="136.9" stroke="#222" stroke-width="0.5"/>
<text x="435.0" y="144.4" font-size="5" font-weight="normal" text-anchor="middle" fill="#000" stroke="#000" stroke-width="0.2">d1</text>
<line x1="450.2" y1="135.4" x2="450.2" y2="136.9" stroke="#222" stroke-width="0.5"/>
<text x="450.2" y="144.4" font-size="5" font-weight="normal" text-anchor="middle" fill="#000" stroke="#000" stroke-width="0.2">d2</text>
<line x1="465.5" y1="135.4" x2="465.5" y2="136.9" stroke="#222" stroke-width="0.5"/>
<text x="465.5" y="144.4" font-size="5" font-weight="normal" text-anchor="middle" fill="#000" stroke="#000" stroke-width="0.2">d3</text>
<line x1="480.8" y1="135.4" x2="480.8" y2="136.9" stroke="#222" stroke-width="0.5"/>
<text x="480.8" y="144.4" font-size="5" font-weight="normal" text-anchor="middle" fill="#000" stroke="#000" stroke-width="0.2">d4</text>
<line x1="496.0" y1="135.4" x2="496.0" y2="136.9" stroke="#222" stroke-width="0.5"/>
<text x="496.0" y="144.4" font-size="5" font-weight="normal" text-anchor="middle" fill="#000" stroke="#000" stroke-width="0.2">d5</text>
<line x1="511.3" y1="135.4" x2="511.3" y2="136.9" stroke="#222" stroke-width="0.5"/>
<text x="511.3" y="144.4" font-size="5" font-weight="normal" text-anchor="middle" fill="#000" stroke="#000" stroke-width="0.2">d6</text>
<text transform="translate(398.9,122.5) rotate(-90)" font-size="5.6" font-weight="bold" fill="#000" stroke="#000" stroke-width="0.15" textLength="80.0" lengthAdjust="spacingAndGlyphs">Number of viable cells x (10E4)</text>
<path d="M419.7,131.4 L435.0,135.4 L450.2,135.4 L465.5,135.4 L480.8,135.4 L496.0,135.4 L511.3,135.4" fill="none" stroke="#000" stroke-width="0.8"/>
<path d="M419.7,131.4 L435.0,120.8 L450.2,106.2 L465.5,78.4" fill="none" stroke="#000" stroke-width="1.1" stroke-dasharray="2.2,1.3"/>
<path d="M419.7,131.4 L435.0,135.4 L450.2,135.4 L465.5,135.4 L480.8,135.4 L496.0,135.4 L511.3,135.4" fill="none" stroke="#000" stroke-width="0.6" stroke-dasharray="1.2,1"/>
<path d="M419.7,131.4 L435.0,122.5 L450.2,115.5 L465.5,108.2 L480.8,99.6 L496.0,107.3 L511.3,112.9" fill="none" stroke="#000" stroke-width="0.8"/>
<path d="M419.7,131.4 L435.0,122.1 L450.2,85.0 L465.5,46.5" fill="none" stroke="#000" stroke-width="1.2" stroke-dasharray="3,1.5"/>
<path d="M419.7,131.4 L435.0,127.8 L450.2,126.9 L465.5,118.2 L480.8,117.5 L496.0,122.1 L511.3,127.0" fill="none" stroke="#000" stroke-width="0.8" stroke-dasharray="1,1.1"/>
<path d="M450.2,102.2 L450.2,110.2 M448.8,102.2 L451.6,102.2 M448.8,110.2 L451.6,110.2" stroke="#111" stroke-width="0.7" fill="none"/>
<path d="M465.5,72.8 L465.5,83.9 M464.1,72.8 L466.9,72.8 M464.1,83.9 L466.9,83.9" stroke="#111" stroke-width="0.7" fill="none"/>
<path d="M465.5,105.0 L465.5,111.4 M464.1,105.0 L466.9,105.0 M464.1,111.4 L466.9,111.4" stroke="#111" stroke-width="0.7" fill="none"/>
<path d="M480.8,94.3 L480.8,104.9 M479.4,94.3 L482.2,94.3 M479.4,104.9 L482.2,104.9" stroke="#111" stroke-width="0.7" fill="none"/>
<path d="M496.0,104.4 L496.0,110.2 M494.6,104.4 L497.4,104.4 M494.6,110.2 L497.4,110.2" stroke="#111" stroke-width="0.7" fill="none"/>
<path d="M511.3,108.5 L511.3,117.2 M509.9,108.5 L512.7,108.5 M509.9,117.2 L512.7,117.2" stroke="#111" stroke-width="0.7" fill="none"/>
<path d="M450.2,75.7 L450.2,94.3 M448.8,75.7 L451.6,75.7 M448.8,94.3 L451.6,94.3" stroke="#111" stroke-width="0.7" fill="none"/>
<path d="M465.5,29.3 L465.5,63.8 M464.1,29.3 L466.9,29.3 M464.1,63.8 L466.9,63.8" stroke="#111" stroke-width="0.7" fill="none"/>
<path d="M465.5,114.6 L465.5,121.7 M464.1,114.6 L466.9,114.6 M464.1,121.7 L466.9,121.7" stroke="#111" stroke-width="0.7" fill="none"/>
<path d="M480.8,112.9 L480.8,122.1 M479.4,112.9 L482.2,112.9 M479.4,122.1 L482.2,122.1" stroke="#111" stroke-width="0.7" fill="none"/>
<path d="M496.0,117.5 L496.0,126.8 M494.6,117.5 L497.4,117.5 M494.6,126.8 L497.4,126.8" stroke="#111" stroke-width="0.7" fill="none"/>
<path d="M419.70,128.42 L422.15,133.62 L417.25,133.62 Z" fill="#000"/>
<rect x="417.86" y="129.58" width="3.68" height="3.68" fill="#000"/>
<path d="M419.70,129.12 L422.00,133.26 L417.40,133.26 Z" fill="#bbb" stroke="#000" stroke-width="0.8"/>
<path d="M434.97,120.24 L437.27,124.38 L432.67,124.38 Z" fill="#bbb" stroke="#000" stroke-width="0.8"/>
<path d="M450.24,113.21 L452.54,117.35 L447.94,117.35 Z" fill="#bbb" stroke="#000" stroke-width="0.8"/>
<path d="M465.51,105.91 L467.81,110.05 L463.21,110.05 Z" fill="#bbb" stroke="#000" stroke-width="0.8"/>
<path d="M480.78,97.29 L483.08,101.43 L478.48,101.43 Z" fill="#bbb" stroke="#000" stroke-width="0.8"/>
<path d="M496.05,104.98 L498.35,109.12 L493.75,109.12 Z" fill="#bbb" stroke="#000" stroke-width="0.8"/>
<path d="M511.32,110.55 L513.62,114.69 L509.02,114.69 Z" fill="#bbb" stroke="#000" stroke-width="0.8"/>
<path d="M419.70,129.12 L422.00,131.42 L419.70,133.72 L417.40,131.42 Z" fill="#aaa" stroke="#000" stroke-width="0.8"/>
<path d="M434.97,119.84 L437.27,122.14 L434.97,124.44 L432.67,122.14 Z" fill="#aaa" stroke="#000" stroke-width="0.8"/>
<path d="M450.24,82.70 L452.54,85.00 L450.24,87.30 L447.94,85.00 Z" fill="#aaa" stroke="#000" stroke-width="0.8"/>
<path d="M465.51,44.24 L467.81,46.54 L465.51,48.84 L463.21,46.54 Z" fill="#aaa" stroke="#000" stroke-width="0.8"/>
<path d="M419.70,128.82 L422.20,131.42 L419.70,134.02 L417.20,131.42 Z" fill="#000" stroke="#000" stroke-width="0.4" stroke-linejoin="round"/>
<path d="M434.97,118.21 L437.47,120.81 L434.97,123.41 L432.47,120.81 Z" fill="#000" stroke="#000" stroke-width="0.4" stroke-linejoin="round"/>
<path d="M450.24,103.62 L452.74,106.22 L450.24,108.82 L447.74,106.22 Z" fill="#000" stroke="#000" stroke-width="0.4" stroke-linejoin="round"/>
<path d="M465.51,75.77 L468.01,78.37 L465.51,80.97 L463.01,78.37 Z" fill="#000" stroke="#000" stroke-width="0.4" stroke-linejoin="round"/>
<rect x="417.75" y="129.47" width="3.9" height="3.9" fill="#fff" stroke="#000" stroke-width="0.75"/>
<rect x="433.02" y="125.89" width="3.9" height="3.9" fill="#fff" stroke="#000" stroke-width="0.75"/>
<rect x="448.29" y="124.96" width="3.9" height="3.9" fill="#fff" stroke="#000" stroke-width="0.75"/>
<circle cx="465.51" cy="118.16" r="2.6" fill="#fff" stroke="#000" stroke-width="0.85"/>
<circle cx="480.78" cy="117.50" r="2.6" fill="#fff" stroke="#000" stroke-width="0.85"/>
<circle cx="496.05" cy="122.14" r="2.6" fill="#fff" stroke="#000" stroke-width="0.85"/>
<rect x="509.37" y="125.09" width="3.9" height="3.9" fill="#fff" stroke="#000" stroke-width="0.75"/>
<path d="M434.97,132.40 L437.42,137.60 L432.52,137.60 Z" fill="#000"/>
<path d="M450.24,132.40 L452.69,137.60 L447.79,137.60 Z" fill="#000"/>
<path d="M465.51,132.40 L467.96,137.60 L463.06,137.60 Z" fill="#000"/>
<path d="M480.78,132.40 L483.23,137.60 L478.33,137.60 Z" fill="#000"/>
<path d="M496.05,132.40 L498.50,137.60 L493.60,137.60 Z" fill="#000"/>
<path d="M511.32,132.40 L513.77,137.60 L508.87,137.60 Z" fill="#000"/>
<line x1="292.3" y1="159.20" x2="309.3" y2="159.20" stroke="#222" stroke-width="0.7"/>
<path d="M300.60,157.20 L302.50,160.60 L298.70,160.60 Z" fill="#000"/>
<text x="310.4" y="160.8" font-size="5.3" font-weight="normal" text-anchor="start" fill="#000" stroke="#000" stroke-width="0.2">32D</text>
<line x1="292.3" y1="168.62" x2="309.3" y2="168.62" stroke="#222" stroke-width="0.9" stroke-dasharray="2.2,1.8"/>
<path d="M300.60,166.72 L302.50,168.62 L300.60,170.52 L298.70,168.62 Z" fill="#000"/>
<text x="311.0" y="170.22" font-size="5.3" font-weight="normal" text-anchor="start" fill="#000" stroke="#000" stroke-width="0.2">32D b/a</text>
<line x1="292.3" y1="178.04" x2="309.3" y2="178.04" stroke="#222" stroke-width="0.8" stroke-dasharray="0.9,1.8"/>
<rect x="299.15" y="176.59" width="2.9" height="2.9" fill="#000"/>
<text x="311.0" y="179.64" font-size="5.3" font-weight="normal" text-anchor="start" fill="#000" stroke="#000" stroke-width="0.2">32D b/a STI571</text>
<line x1="292.3" y1="187.46" x2="309.3" y2="187.46" stroke="#222" stroke-width="0.7"/>
<path d="M300.60,185.66 L302.40,188.76 L298.80,188.76 Z" fill="#fff" stroke="#000" stroke-width="0.6"/>
<text x="311.0" y="189.06" font-size="5.3" font-weight="normal" text-anchor="start" fill="#000" stroke="#000" stroke-width="0.2">32D + IL-3</text>
<line x1="292.3" y1="196.88" x2="309.3" y2="196.88" stroke="#222" stroke-width="0.9" stroke-dasharray="1.6,1.6"/>
<path d="M300.60,195.08 L302.40,196.88 L300.60,198.68 L298.80,196.88 Z" fill="#fff" stroke="#000" stroke-width="0.6"/>
<text x="311.0" y="198.48" font-size="5.3" font-weight="normal" text-anchor="start" fill="#000" stroke="#000" stroke-width="0.2">32D b/a + IL-3</text>
<line x1="292.3" y1="206.30" x2="309.3" y2="206.30" stroke="#222" stroke-width="0.8" stroke-dasharray="0.9,1.8"/>
<rect x="299.10" y="204.80" width="3.0" height="3.0" fill="#fff" stroke="#000" stroke-width="0.6"/>
<text x="311.0" y="207.9" font-size="5.3" font-weight="normal" text-anchor="start" fill="#000" stroke="#000" stroke-width="0.2">32D b/a + STI571 + IL-3</text>
<line x1="424.2" y1="157.80" x2="441.2" y2="157.80" stroke="#222" stroke-width="0.7"/>
<path d="M432.50,155.80 L434.40,159.20 L430.60,159.20 Z" fill="#000"/>
<text x="442.5" y="159.4" font-size="5.3" font-weight="normal" text-anchor="start" fill="#000" stroke="#000" stroke-width="0.2">32D</text>
<line x1="424.2" y1="167.22" x2="441.2" y2="167.22" stroke="#222" stroke-width="0.9" stroke-dasharray="2.2,1.8"/>
<path d="M432.50,165.32 L434.40,167.22 L432.50,169.12 L430.60,167.22 Z" fill="#000"/>
<text x="443.7" y="168.82" font-size="5.3" font-weight="normal" text-anchor="start" fill="#000" stroke="#000" stroke-width="0.2">32D b/a</text>
<line x1="424.2" y1="176.64" x2="441.2" y2="176.64" stroke="#222" stroke-width="0.8" stroke-dasharray="0.9,1.8"/>
<rect x="431.05" y="175.19" width="2.9" height="2.9" fill="#000"/>
<text x="443.7" y="178.24" font-size="5.3" font-weight="normal" text-anchor="start" fill="#000" stroke="#000" stroke-width="0.2">32D b/a +  STI571</text>
<line x1="424.2" y1="186.06" x2="441.2" y2="186.06" stroke="#222" stroke-width="0.7"/>
<path d="M432.50,184.26 L434.30,187.36 L430.70,187.36 Z" fill="#fff" stroke="#000" stroke-width="0.6"/>
<text x="443.7" y="187.66" font-size="5.3" font-weight="normal" text-anchor="start" fill="#000" stroke="#000" stroke-width="0.2">32D + G-CSF</text>
<line x1="424.2" y1="195.48" x2="441.2" y2="195.48" stroke="#222" stroke-width="0.9" stroke-dasharray="1.6,1.6"/>
<path d="M432.50,193.68 L434.30,195.48 L432.50,197.28 L430.70,195.48 Z" fill="#fff" stroke="#000" stroke-width="0.6"/>
<text x="443.7" y="197.08" font-size="5.3" font-weight="normal" text-anchor="start" fill="#000" stroke="#000" stroke-width="0.2">32D b/a + G-CSF</text>
<line x1="424.2" y1="204.90" x2="441.2" y2="204.90" stroke="#222" stroke-width="0.8" stroke-dasharray="0.9,1.8"/>
<rect x="431.00" y="203.40" width="3.0" height="3.0" fill="#fff" stroke="#000" stroke-width="0.6"/>
<text x="443.7" y="206.5" font-size="5.3" font-weight="normal" text-anchor="start" fill="#000" stroke="#000" stroke-width="0.2">32D b/a + STI571 + G-CSF</text>
</svg></body></html>
